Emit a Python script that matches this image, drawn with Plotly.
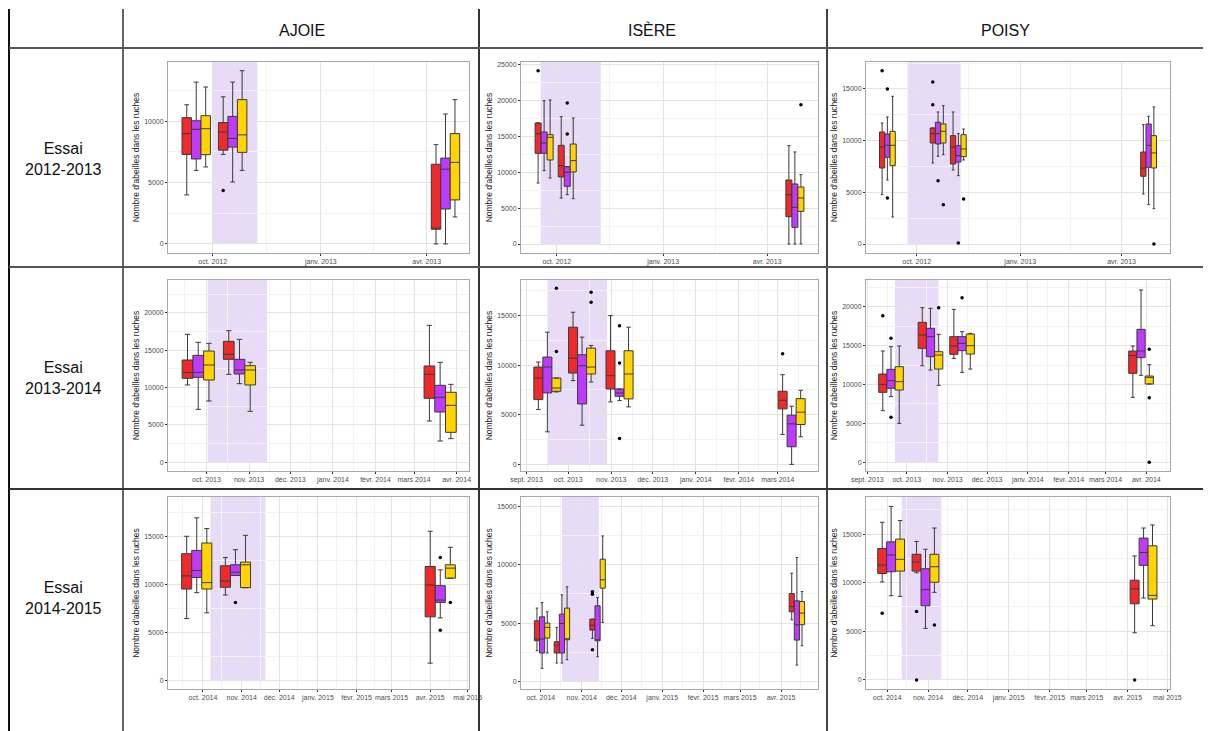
import plotly.graph_objects as go
import pandas as pd

W, H = 1211, 731
PAGE_OFFSET = 8  # the page body margin shifts the figure by this many pixels

SITES = ["AJOIE", "ISÈRE", "POISY"]
TRIALS = ["Essai<br>2012-2013", "Essai<br>2013-2014", "Essai<br>2014-2015"]
SERIES_COLORS = ["#EE2A2A", "#BF3BFB", "#FFD400"]
Y_TITLE = "Nombre d'abeilles dans les ruches"
FR_MONTHS = ["janv.", "févr.", "mars", "avr.", "mai", "juin",
             "juil.", "août", "sept.", "oct.", "nov.", "déc."]

# stats per box: (lower whisker, Q1, median, Q3, upper whisker)

# ---------------- AJOIE 2012-2013 ----------------
aj12_dates = ["2012-09-17", "2012-10-18", "2013-04-17"]
aj12_red = [(4000, 7300, 9000, 10300, 11350), (7300, 7650, 9130, 9900, 12000), (0, 1200, 1250, 6500, 8100)]
aj12_pur = [(6000, 6930, 9350, 10050, 13200), (5050, 7900, 8600, 10400, 13200), (0, 2850, 6100, 7000, 10600)]
aj12_yel = [(6280, 7280, 9400, 10460, 12800), (6000, 7470, 8900, 11770, 14130), (2200, 3590, 6650, 9000, 11770)]
aj12_red_out = [[], [4350], []]
aj12_pur_out = [[], [], []]
aj12_yel_out = [[], [], []]
aj12_ticks = ["2012-10-01", "2013-01-01", "2013-04-01"]
aj12_shade = ["2012-10-01", "2012-11-08"]

# ---------------- ISÈRE 2012-2013 ----------------
is12_dates = ["2012-09-20", "2012-10-10", "2013-04-25"]
is12_red = [(8500, 12640, 15380, 16870, 16900), (6410, 9340, 10920, 13755, 17750), (0, 3810, 6880, 8920, 13710)]
is12_pur = [(10220, 12640, 14080, 15610, 19980), (6880, 8040, 9990, 10780, 10780), (0, 2320, 5110, 8365, 12830)]
is12_yel = [(9200, 11710, 14870, 15240, 20075), (6320, 10040, 11620, 13940, 17565), (0, 4550, 6410, 7946, 9665)]
is12_red_out = [[24160], [], []]
is12_pur_out = [[], [19650, 15330], []]
is12_yel_out = [[], [], [19420]]
is12_ticks = ["2012-10-01", "2013-01-01", "2013-04-01"]
is12_shade = ["2012-09-17", "2012-11-08"]

# ---------------- POISY 2012-2013 ----------------
po12_dates = ["2012-09-05", "2012-10-20", "2012-11-07", "2013-04-25"]
po12_red = [(4775, 7355, 9390, 10840, 11710), (7840, 9775, 10680, 11225, 11225),
            (7160, 7745, 9390, 10485, 12775), (4840, 6550, 7355, 8900, 11550)]
po12_pur = [(6195, 8390, 9550, 10645, 12290), (8485, 9680, 10680, 11775, 12775),
            (6610, 7935, 8550, 9515, 10680), (3810, 7420, 9550, 11615, 12355)]
po12_yel = [(2615, 7580, 9550, 10900, 14290), (8645, 9775, 10905, 11615, 13390),
            (8130, 8450, 9195, 10580, 11130), (3420, 7355, 8810, 10485, 13260)]
po12_red_out = [[16775], [15680, 13485], [], []]
po12_pur_out = [[15000, 4450], [6130], [100], []]
po12_yel_out = [[], [3810], [4355], [0]]
po12_ticks = ["2012-10-01", "2013-01-01", "2013-04-01"]
po12_shade = ["2012-09-23", "2012-11-09"]

# ---------------- AJOIE 2013-2014 ----------------
aj13_dates = ["2013-09-25", "2013-10-25", "2014-03-20"]
aj13_red = [(10340, 11230, 12030, 13680, 17110), (11765, 13770, 14440, 16175, 17600), (5525, 8555, 11765, 12880, 18315)]
aj13_pur = [(7085, 11360, 12030, 14300, 16040), (10515, 11810, 12345, 13770, 16440), (2850, 6730, 8690, 10295, 13370)]
aj13_yel = [(8200, 11005, 13010, 14880, 15910), (6820, 10340, 12345, 12920, 13370), (3165, 4010, 7620, 9360, 10425)]
aj13_red_out = [[], [], []]
aj13_pur_out = [[], [], []]
aj13_yel_out = [[], [], []]
aj13_ticks = ["2013-10-01", "2013-11-01", "2013-12-01", "2014-01-01", "2014-02-01", "2014-03-01", "2014-04-01"]
aj13_shade = ["2013-10-02", "2013-11-14"]

# ---------------- ISÈRE 2013-2014 ----------------
is13_dates = ["2013-09-16", "2013-10-11", "2013-11-07", "2014-03-11"]
is13_red = [(5525, 6530, 8707, 9813, 10315), (8440, 9210, 10717, 13830, 15340),
            (6300, 7600, 8940, 11455, 15000), (3015, 5595, 6465, 7368, 9040)]
is13_pur = [(3282, 7200, 9813, 10817, 13330), (3950, 6095, 9946, 11050, 12830),
            (6430, 6865, 7200, 7600, 7600), (0, 1775, 4085, 4957, 5860)]
is13_yel = [(7300, 7368, 7703, 8707, 8707), (8305, 9110, 9813, 11720, 11990),
            (5795, 6600, 9110, 11455, 13830), (2780, 4020, 5260, 6630, 7470)]
is13_red_out = [[], [], [], [11150]]
is13_pur_out = [[], [], [13965, 10215, 2612], []]
is13_yel_out = [[17750, 11387], [17350, 16345], [], []]
is13_ticks = ["2013-09-01", "2013-10-01", "2013-11-01", "2013-12-01", "2014-01-01", "2014-02-01", "2014-03-01"]
is13_shade = ["2013-09-16", "2013-10-29"]

# ---------------- POISY 2013-2014 ----------------
po13_dates = ["2013-09-19", "2013-10-19", "2013-11-12", "2014-03-28"]
po13_red = [(6640, 8995, 10020, 11350, 14305), (12420, 14650, 16360, 17990, 19875),
            (13360, 13880, 14950, 16150, 19660), (8350, 11435, 13705, 14305, 14950)]
po13_pur = [(8440, 9510, 10495, 11950, 14860), (11865, 13580, 16150, 17220, 19790),
            (11565, 14350, 15290, 16150, 16790), (11180, 13450, 14305, 17090, 22140)]
po13_yel = [(5010, 9295, 10365, 12290, 14950), (9895, 11990, 13790, 14220, 16450),
            (11990, 13920, 14990, 16490, 16575), (10065, 10065, 10920, 11095, 12550)]
po13_red_out = [[18845], [], [], []]
po13_pur_out = [[15930, 5780], [], [21160], []]
po13_yel_out = [[], [19875], [], [14520, 8310, 0]]
po13_ticks = ["2013-09-01", "2013-10-01", "2013-11-01", "2013-12-01", "2014-01-01", "2014-02-01", "2014-03-01", "2014-04-01"]
po13_shade = ["2013-09-22", "2013-10-25"]

# ---------------- AJOIE 2014-2015 ----------------
aj14_dates = ["2014-09-26", "2014-10-27", "2015-04-09"]
aj14_red = [(6450, 9520, 10880, 13185, 15000), (8895, 9695, 10360, 11930, 12800), (1815, 6625, 9940, 11860, 15520)]
aj14_pur = [(9140, 10710, 11440, 13530, 16915), (10920, 10920, 11265, 12035, 13605), (6520, 8125, 8370, 9870, 11510)]
aj14_yel = [(7045, 9520, 10185, 14300, 15800), (9660, 9660, 12035, 12315, 15100), (10640, 10640, 11685, 12035, 13850)]
aj14_red_out = [[], [], []]
aj14_pur_out = [[], [8125], [12800, 5230]]
aj14_yel_out = [[], [], [8125]]
aj14_ticks = ["2014-10-01", "2014-11-01", "2014-12-01", "2015-01-01", "2015-02-01", "2015-03-01", "2015-04-01", "2015-05-01"]
aj14_shade = ["2014-10-07", "2014-11-20"]

# ---------------- ISÈRE 2014-2015 ----------------
is14_dates = ["2014-10-02", "2014-10-17", "2014-11-13", "2015-04-13"]
is14_red = [(2630, 3485, 3630, 5200, 6285), (1570, 2430, 3115, 3400, 4630),
            (3685, 4400, 4830, 5340, 5340), (5285, 5970, 6430, 7540, 9285)]
is14_pur = [(1115, 2430, 3630, 5540, 6770), (1570, 2430, 4970, 5770, 7430),
            (2115, 3485, 3520, 6485, 7200), (1400, 3540, 4860, 6915, 10630)]
is14_yel = [(2430, 3715, 4630, 5000, 5970), (1855, 3570, 3600, 6285, 8115),
            (5060, 8000, 8715, 10485, 12485), (3055, 4860, 5855, 6855, 7715)]
is14_red_out = [[], [], [7685, 7485, 2715], []]
is14_pur_out = [[], [], [], []]
is14_yel_out = [[], [], [], []]
is14_ticks = ["2014-10-01", "2014-11-01", "2014-12-01", "2015-01-01", "2015-02-01", "2015-03-01", "2015-04-01"]
is14_shade = ["2014-10-17", "2014-11-14"]

# ---------------- POISY 2014-2015 ----------------
po14_dates = ["2014-10-04", "2014-10-30", "2015-04-13"]
po14_red = [(10080, 10945, 11810, 13510, 16210), (11015, 11190, 12125, 12920, 14240), (4850, 7830, 9355, 10255, 12750)]
po14_pur = [(8660, 11120, 12850, 14200, 17840), (5300, 7620, 9285, 11430, 13440), (8420, 11780, 13095, 14585, 15620)]
po14_yel = [(8590, 11190, 12400, 14480, 16385), (9005, 10045, 11640, 12920, 15620), (5575, 8315, 8695, 13785, 15935)]
po14_red_out = [[6860], [7030, 0], [0]]
po14_pur_out = [[], [], []]
po14_yel_out = [[], [5645], []]
po14_ticks = ["2014-10-01", "2014-11-01", "2014-12-01", "2015-01-01", "2015-02-01", "2015-03-01", "2015-04-01", "2015-05-01"]
po14_shade = ["2014-10-12", "2014-11-11"]

PANELS = [
    dict(dates=aj12_dates, series=[aj12_red, aj12_pur, aj12_yel], out=[aj12_red_out, aj12_pur_out, aj12_yel_out],
         ticks=aj12_ticks, shade=aj12_shade, xr=["2012-08-24", "2013-05-07"], yr=[-740, 14840]),
    dict(dates=is12_dates, series=[is12_red, is12_pur, is12_yel], out=[is12_red_out, is12_pur_out, is12_yel_out],
         ticks=is12_ticks, shade=is12_shade, xr=["2012-08-31", "2013-05-15"], yr=[-1255, 25370]),
    dict(dates=po12_dates, series=[po12_red, po12_pur, po12_yel], out=[po12_red_out, po12_pur_out, po12_yel_out],
         ticks=po12_ticks, shade=po12_shade, xr=["2012-08-17", "2013-05-14"], yr=[-870, 17610]),
    dict(dates=aj13_dates, series=[aj13_red, aj13_pur, aj13_yel], out=[aj13_red_out, aj13_pur_out, aj13_yel_out],
         ticks=aj13_ticks, shade=aj13_shade, xr=["2013-09-03", "2014-04-10"], yr=[-1160, 24375]),
    dict(dates=is13_dates, series=[is13_red, is13_pur, is13_yel], out=[is13_red_out, is13_pur_out, is13_yel_out],
         ticks=is13_ticks, shade=is13_shade, xr=["2013-08-28", "2014-03-30"], yr=[-670, 18590]),
    dict(dates=po13_dates, series=[po13_red, po13_pur, po13_yel], out=[po13_red_out, po13_pur_out, po13_yel_out],
         ticks=po13_ticks, shade=po13_shade, xr=["2013-08-31", "2014-04-19"], yr=[-1110, 23430]),
    dict(dates=aj14_dates, series=[aj14_red, aj14_pur, aj14_yel], out=[aj14_red_out, aj14_pur_out, aj14_yel_out],
         ticks=aj14_ticks, shade=aj14_shade, xr=["2014-09-03", "2015-05-02"], yr=[-870, 19080]),
    dict(dates=is14_dates, series=[is14_red, is14_pur, is14_yel], out=[is14_red_out, is14_pur_out, is14_yel_out],
         ticks=is14_ticks, shade=is14_shade, xr=["2014-09-16", "2015-04-29"], yr=[-660, 15830]),
    dict(dates=po14_dates, series=[po14_red, po14_pur, po14_yel], out=[po14_red_out, po14_pur_out, po14_yel_out],
         ticks=po14_ticks, shade=po14_shade, xr=["2014-09-15", "2015-05-03"], yr=[-935, 18810]),
]

# pixel geometry (screen coordinates) of the plot areas
COL_X = [(168, 469), (521, 818), (866, 1170)]
ROW_Y = [(62, 253), (280, 471), (497, 689)]


def px(xs):
    return (xs - PAGE_OFFSET) / W


def py(ys):
    return 1 - (ys - PAGE_OFFSET) / H


def fr_label(d):
    t = pd.Timestamp(d)
    return f"{FR_MONTHS[t.month - 1]} {t.year}"


def mids(ticks, xr):
    lo, hi = pd.Timestamp(xr[0]), pd.Timestamp(xr[1])
    allt = [pd.Timestamp(t) for t in ticks]
    step = allt[1] - allt[0] if len(allt) > 1 else pd.Timedelta(days=30)
    ext = [allt[0] - step] + allt + [allt[-1] + step]
    out = []
    for a, b in zip(ext[:-1], ext[1:]):
        m = a + (b - a) / 2
        if lo <= m <= hi:
            out.append(m.strftime("%Y-%m-%d"))
    return out


def sample_rows(outliers, stats):
    # rows of sample points per box; a box without outliers carries its median only
    return [row if row else [s[2]] for row, s in zip(outliers, stats)]


fig = go.Figure()
layout = dict(
    width=W, height=H, autosize=False,
    margin=dict(l=0, r=0, t=0, b=0, pad=0, autoexpand=False),
    paper_bgcolor="white", plot_bgcolor="white",
    showlegend=False, boxmode="group", boxgap=0.22, boxgroupgap=0,
    font=dict(family="Liberation Sans, Arial, sans-serif", color="#222"),
)
shapes = []
annotations = []

for i, p in enumerate(PANELS):
    r, c = divmod(i, 3)
    xn = "x" if i == 0 else f"x{i + 1}"
    yn = "y" if i == 0 else f"y{i + 1}"
    xk = "xaxis" if i == 0 else f"xaxis{i + 1}"
    yk = "yaxis" if i == 0 else f"yaxis{i + 1}"
    x0, x1 = COL_X[c]
    y0, y1 = ROW_Y[r]
    layout[xk] = dict(
        domain=[px(x0), px(x1)], anchor=yn, type="date", range=p["xr"], automargin=False,
        tickmode="array", tickvals=p["ticks"], ticktext=[fr_label(t) for t in p["ticks"]],
        tickfont=dict(size=7, color="#4D4D4D"), ticks="outside", ticklen=2, tickcolor="#333",
        showgrid=True, gridcolor="#E4E4E4", gridwidth=1,
        minor=dict(tickvals=mids(p["ticks"], p["xr"]), showgrid=True, gridcolor="#F3F3F3", gridwidth=0.6, ticks=""),
        showline=True, mirror=True, linecolor="#A8A8A8", linewidth=1, zeroline=False,
    )
    layout[yk] = dict(
        domain=[py(y1), py(y0)], anchor=xn, range=p["yr"], automargin=False,
        dtick=5000, tick0=0, tickformat="d",
        tickfont=dict(size=7, color="#4D4D4D"), ticks="outside", ticklen=2, tickcolor="#333",
        showgrid=True, gridcolor="#E4E4E4", gridwidth=1,
        minor=dict(dtick=2500, tick0=0, showgrid=True, gridcolor="#F3F3F3", gridwidth=0.6, ticks=""),
        showline=True, mirror=True, linecolor="#A8A8A8", linewidth=1, zeroline=False,
        title=dict(text=Y_TITLE, font=dict(size=8.5, color="#222"), standoff=3),
    )
    shapes.append(dict(type="rect", xref=xn, yref=yn, x0=p["shade"][0], x1=p["shade"][1],
                       y0=0, y1=p["yr"][1], fillcolor="#E8DBF8", line=dict(width=0), layer="below"))
    for k in range(3):
        st = p["series"][k]
        fig.add_trace(go.Box(
            x=p["dates"], y=sample_rows(p["out"][k], st), orientation="v",
            lowerfence=[s[0] for s in st], q1=[s[1] for s in st], median=[s[2] for s in st],
            q3=[s[3] for s in st], upperfence=[s[4] for s in st],
            boxpoints="outliers", pointpos=0, jitter=0,
            fillcolor=SERIES_COLORS[k], line=dict(color="#3A3A3A", width=1),
            marker=dict(color="black", size=3.5), whiskerwidth=0.5,
            offsetgroup=str(k), alignmentgroup=f"panel{i}",
            xaxis=xn, yaxis=yn, hoverinfo="skip",
        ))


def hline(yy, xa=9, xb=W + PAGE_OFFSET, color="#555", w=2):
    shapes.append(dict(type="line", xref="paper", yref="paper", x0=px(xa), x1=px(xb),
                       y0=py(yy), y1=py(yy), line=dict(color=color, width=w)))


def vline(xx, ya=9, yb=H + PAGE_OFFSET, color="#555", w=2):
    shapes.append(dict(type="line", xref="paper", yref="paper", x0=px(xx), x1=px(xx),
                       y0=py(ya), y1=py(yb), line=dict(color=color, width=w)))


# table grid lines
vline(9, color="#111")
vline(123, color="#666")
vline(479, color="#333")
vline(827, color="#444")
hline(48, color="#555")
hline(267, color="#555")
hline(489, color="#333")

HEADER_X = [302, 652, 1005]
ROW_LABEL_Y = [159, 378, 598]
for c, name in enumerate(SITES):
    annotations.append(dict(text=name, x=px(HEADER_X[c]), y=py(30), xref="paper", yref="paper",
                            showarrow=False, font=dict(size=16, color="#111"), xanchor="center", yanchor="middle"))
for r, name in enumerate(TRIALS):
    annotations.append(dict(text=name, x=px(63), y=py(ROW_LABEL_Y[r]), xref="paper", yref="paper",
                            showarrow=False, font=dict(size=16, color="#111"), xanchor="center", yanchor="middle"))

layout["shapes"] = shapes
layout["annotations"] = annotations
fig.update_layout(**layout)
fig.write_html("out.html")
